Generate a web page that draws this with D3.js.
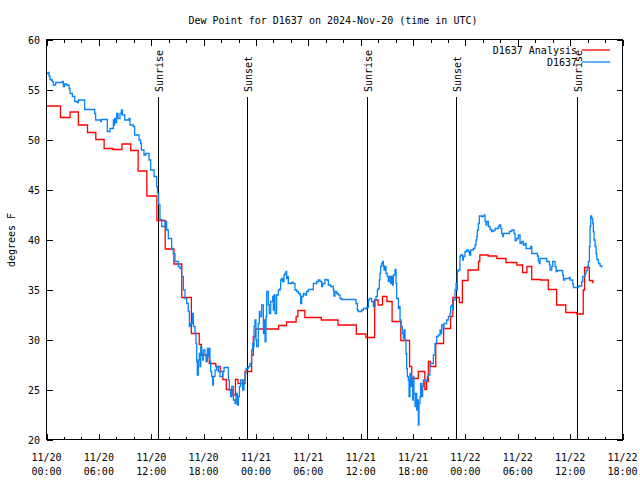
<!DOCTYPE html>
<html><head><meta charset="utf-8">
<script src="https://cdn.jsdelivr.net/npm/d3@7"></script>
<style>
body{margin:0;background:#fff}
text{font-family:"DejaVu Sans Mono","Liberation Mono",monospace;font-size:10px;fill:#000}
</style>
</head><body>
<svg id="c" width="640" height="480"></svg>
<script>
const titleText = "Dew Point for D1637 on 2024-Nov-20 (time in UTC)";
const yLabel = "degrees F";
const seriesNames = ["D1637 Analysis", "D1637"];
const seriesColors = ["#ff0000", "#0a84f5"];

// Analysis (red) – step values, hours since 11/20 00:00 UTC
const anaHours = [0,1.6,2.7,3.65,4.7,5.65,6.6,7.6,8.65,9.65,10.5,11.5,12.65,13.6,14.6,15.5,16.6,17.5,17.75,18.65,19.4,19.9,20.2,20.6,21.35,21.65,21.95,22.75,23.5,23.7,23.95,26.6,27.5,28.6,28.8,29.6,31.5,33.4,35.5,36.6,37.6,38.0,38.5,39.0,39.6,40.6,41.6,41.85,42.6,43.35,43.55,43.75,44.0,44.6,45.5,46.3,46.55,47.3,47.65,48.3,49.5,49.65,50.6,51.6,52.65,53.9,54.55,55.05,55.6,56.6,57.5,58.45,59.5,60.75,61.5,61.65,62.2,62.6,62.7];
const anaDew = [53.35,52.2,52.75,51.45,50.7,50.0,49.1,49.0,49.55,48.9,46.85,44.35,41.9,39.05,37.55,34.2,30.6,29.5,28.45,27.6,27.3,26.8,26.0,25.0,24.45,26.0,25.6,26.8,28.45,30.3,31.05,31.4,31.75,32.3,32.9,32.2,31.95,31.45,30.55,30.2,33.95,33.45,34.3,33.8,31.8,29.9,27.3,26.1,26.8,25.0,25.8,27.8,27.3,29.6,31.1,32.3,34.2,33.7,35.9,36.95,37.8,38.45,38.35,38.1,37.7,37.45,36.7,37.3,36.0,35.95,35.0,33.45,32.7,32.55,34.95,37.2,35.9,35.7,35.7];

// Observations (blue)
const obsHours = [0.02,0.17,0.29,0.40,0.55,0.67,0.78,1.05,1.81,1.93,2.08,2.31,2.58,2.69,2.96,3.23,3.53,3.65,4.22,4.37,5.37,5.52,5.63,6.21,6.28,6.9,6.97,7.28,7.54,7.66,7.73,7.81,7.93,8.04,8.19,8.42,8.58,8.69,8.96,9.45,9.57,9.84,9.95,10.1,10.6,10.79,10.87,11.17,11.36,11.75,11.94,12.32,12.62,12.72,12.85,13.0,13.2,13.58,13.77,13.96,14.34,14.53,14.72,15.1,15.3,15.49,15.68,15.87,16.06,16.25,16.37,16.52,16.75,16.83,17.02,17.13,17.21,17.28,17.4,17.51,17.59,17.67,17.78,17.9,17.97,18.16,18.28,18.43,18.54,18.66,18.73,18.81,18.93,19.04,19.12,19.31,19.5,19.69,19.88,20.19,20.34,20.72,20.84,20.95,21.1,21.22,21.41,21.6,21.71,21.87,21.98,22.1,22.25,22.48,22.63,22.75,22.86,23.13,23.32,23.51,23.62,23.7,23.78,23.89,24.0,24.08,24.27,24.39,24.47,24.66,24.85,24.92,25.04,25.15,25.23,25.42,25.53,25.69,25.92,25.99,26.07,26.18,26.37,26.57,26.76,26.83,26.95,27.06,27.21,27.33,27.44,27.52,27.6,27.71,28.09,28.28,28.47,28.67,28.86,29.05,29.12,29.24,29.43,29.62,29.81,30.0,30.38,30.58,30.96,31.15,31.34,31.53,31.65,31.91,32.1,32.29,32.56,32.87,32.94,33.06,33.25,33.44,33.63,33.82,35.35,35.46,35.62,35.73,36.11,36.31,36.69,36.88,36.99,37.26,37.45,37.64,37.76,37.91,38.02,38.14,38.21,38.29,38.41,38.52,38.6,38.67,38.79,38.9,39.05,39.17,39.28,39.44,39.55,39.67,39.74,39.93,40.05,40.12,40.32,40.43,40.51,40.62,40.77,40.89,40.97,41.08,41.19,41.27,41.35,41.46,41.54,41.65,41.73,41.84,41.96,42.03,42.11,42.23,42.34,42.42,42.49,42.61,42.68,42.8,42.87,42.99,43.1,43.18,43.56,43.64,43.75,43.94,44.14,44.33,44.52,44.71,44.9,45.09,45.17,45.28,45.47,45.55,45.85,46.05,46.24,46.31,46.43,46.54,46.62,46.81,46.92,47.0,47.08,47.19,47.38,47.46,47.69,47.76,47.95,48.15,48.34,48.46,48.61,48.91,49.1,49.22,49.3,49.37,49.49,49.6,49.87,50.06,50.17,50.25,50.37,50.44,50.63,50.82,51.01,51.21,51.4,51.78,51.89,52.05,52.16,52.28,52.35,53.04,53.31,53.57,53.69,53.88,54.07,54.26,54.45,54.64,54.83,54.95,55.48,55.6,56.25,56.36,56.48,56.55,57.32,57.62,57.7,57.89,58.0,58.27,58.39,58.54,59.15,59.23,59.42,59.91,59.99,60.3,60.37,60.95,61.33,61.44,61.71,61.82,61.98,62.09,62.21,62.28,62.36,62.47,62.59,62.66,62.74,62.86,62.97,63.05,63.24,63.43,63.62];
const obsDew = [56.6,56.7,56.35,56.0,55.95,55.8,55.45,55.7,55.8,55.3,55.55,55.45,55.1,54.6,54.3,53.8,53.7,53.95,53.95,53.0,53.0,52.6,51.95,51.8,52.0,52.0,50.8,51.1,51.1,51.95,51.45,52.1,51.7,52.6,52.1,52.6,52.95,52.45,51.95,52.1,51.45,51.45,51.3,50.45,49.95,49.6,48.95,48.45,48.6,47.95,46.95,46.3,45.3,44.6,43.5,42.0,41.3,41.8,40.95,40.1,39.1,38.6,37.8,37.3,37.1,36.3,34.95,34.1,33.6,32.8,31.3,31.6,32.6,31.3,30.6,29.6,27.8,26.45,27.95,28.6,27.3,29.3,28.6,27.95,28.95,28.45,27.8,29.1,28.3,29.1,27.8,26.8,26.3,25.45,26.3,26.95,27.3,26.8,26.3,26.8,27.2,27.2,25.95,24.95,24.3,25.3,23.95,23.6,24.6,23.45,24.3,25.3,25.95,24.95,25.95,26.6,27.1,27.3,27.6,28.95,29.6,29.3,31.3,31.95,29.95,29.3,31.6,32.8,32.3,33.45,30.6,31.95,29.8,32.3,34.8,33.45,32.6,33.8,34.3,32.95,34.45,32.6,34.45,34.95,35.1,35.95,36.1,35.8,36.45,36.6,36.8,36.1,36.3,35.6,35.7,35.6,34.95,34.8,34.6,34.45,33.6,34.3,34.6,34.45,34.8,35.0,35.0,35.6,35.8,35.95,35.8,35.3,35.6,36.0,35.95,35.45,35.3,34.95,34.35,34.8,34.6,34.45,34.1,34.0,34.0,33.6,32.95,32.8,32.95,33.1,33.2,33.95,34.1,33.8,33.3,34.0,34.3,34.95,35.1,35.95,36.6,37.3,37.6,37.8,37.35,36.95,37.3,36.6,36.3,35.8,36.3,35.6,36.3,35.45,36.45,37.0,35.6,34.1,33.1,33.3,31.95,31.3,30.6,30.1,30.95,29.95,28.6,27.1,26.3,25.95,24.3,26.6,25.3,25.95,23.95,26.3,24.6,23.3,24.6,22.95,23.95,21.45,23.6,24.3,25.6,24.3,25.3,25.95,25.8,26.3,26.45,27.6,27.6,28.45,29.6,30.3,30.45,30.95,30.6,31.45,31.1,31.6,31.95,32.3,32.6,33.3,33.45,32.95,33.95,34.95,35.6,34.95,36.8,36.95,38.3,38.45,37.95,38.3,38.8,38.95,38.8,38.45,38.95,39.1,39.45,39.95,40.3,40.95,41.6,42.35,42.3,42.35,42.45,41.8,41.45,41.8,41.3,41.0,40.8,40.9,41.1,41.3,41.45,41.1,40.6,40.3,40.6,40.8,40.95,40.6,39.9,40.1,40.45,39.6,39.8,39.45,39.6,39.1,39.3,38.6,38.35,37.8,37.6,38.1,37.8,37.45,36.95,37.3,37.8,37.3,36.8,36.9,36.45,35.95,36.1,36.2,35.95,35.55,35.2,35.35,35.8,36.3,36.6,36.9,37.3,37.8,39.3,41.3,42.35,42.1,41.6,40.8,39.95,39.3,38.6,38.0,37.6,37.35,37.2];

const sunLabels = ["Sunrise","Sunset","Sunrise","Sunset","Sunrise"];
const sunHours = [12.81,23.01,36.76,46.92,60.82];
const xMajorHours = [0,6,12,18,24,30,36,42,48,54,60,66];
const xMinorHours = [2,4,8,10,14,16,20,22,26,28,32,34,38,40,44,46,50,52,56,58,62,64];
const yTicks = [20,25,30,35,40,45,50,55,60];

const svg = d3.select("#c");
const t0 = Date.UTC(2024,10,20,0,0);
const toDate = h => new Date(t0 + h*3600e3);
const x = d3.scaleUtc().domain([toDate(0), toDate(66)]).range([46.5, 622.5]);
const y = d3.scaleLinear().domain([20,60]).range([439.5,39.5]);
const L = 46.5, R = 622.5, T = 39.5, B = 439.5;

// ticks (inward, mirrored)
function noDomain(g){ g.select(".domain").remove(); g.selectAll("text").remove(); g.selectAll("line").attr("stroke","#000").attr("shape-rendering","crispEdges"); }
svg.append("g").attr("transform",`translate(0,${B})`)
  .call(d3.axisBottom(x).tickValues(xMajorHours.map(toDate)).tickSize(-6)).call(noDomain);
svg.append("g").attr("transform",`translate(0,${B})`)
  .call(d3.axisBottom(x).tickValues(xMinorHours.map(toDate)).tickSize(-3)).call(noDomain);
svg.append("g").attr("transform",`translate(0,${T})`)
  .call(d3.axisTop(x).tickValues(xMajorHours.map(toDate)).tickSize(-6)).call(noDomain);
svg.append("g").attr("transform",`translate(0,${T})`)
  .call(d3.axisTop(x).tickValues(xMinorHours.map(toDate)).tickSize(-3)).call(noDomain);
svg.append("g").attr("transform",`translate(${L},0)`)
  .call(d3.axisLeft(y).tickValues(yTicks).tickSize(-6)).call(noDomain);
svg.append("g").attr("transform",`translate(${R},0)`)
  .call(d3.axisRight(y).tickValues(yTicks).tickSize(-6)).call(noDomain);

// tick labels
const fmtD = d3.utcFormat("%m/%d"), fmtT = d3.utcFormat("%H:%M");
xMajorHours.forEach(h => {
  const d = toDate(h);
  const t = svg.append("text").attr("text-anchor","middle");
  t.append("tspan").attr("x", x(d)).attr("y", 461).text(fmtD(d));
  t.append("tspan").attr("x", x(d)).attr("y", 475).text(fmtT(d));
});
yTicks.forEach(v => {
  svg.append("text").attr("x", 40).attr("y", y(v)+4).attr("text-anchor","end").text(v);
});

// sunrise / sunset markers
sunHours.forEach((h,i) => {
  const xx = Math.round(x(toDate(h))) + 0.5;
  svg.append("line").attr("x1",xx).attr("x2",xx).attr("y1",97).attr("y2",B)
    .attr("stroke","#000").attr("stroke-width",1).attr("shape-rendering","crispEdges");
  svg.append("text").attr("transform",`translate(${xx+4},92) rotate(-90)`).text(sunLabels[i]);
});

// series
const line = d3.line().curve(d3.curveStepAfter).x(d => x(toDate(d[0]))).y(d => y(d[1]));
const ana = anaHours.map((h,i) => [h, anaDew[i]]);
const obs = obsHours.map((h,i) => [h, obsDew[i]]);
svg.append("path").datum(ana).attr("d", line).attr("fill","none")
  .attr("stroke", seriesColors[0]).attr("stroke-width",1.3);
svg.append("path").datum(obs).attr("d", line).attr("fill","none")
  .attr("stroke", seriesColors[1]).attr("stroke-width",1.3);

// border
svg.append("rect").attr("x",L).attr("y",T).attr("width",R-L).attr("height",B-T)
  .attr("fill","none").attr("stroke","#000").attr("stroke-width",1).attr("shape-rendering","crispEdges");

// legend
[0,1].forEach(i => {
  const ly = 50 + i*12;
  svg.append("text").attr("x",577).attr("y",ly+4).attr("text-anchor","end").text(seriesNames[i]);
  svg.append("line").attr("x1",582).attr("x2",610).attr("y1",ly).attr("y2",ly)
    .attr("stroke",seriesColors[i]).attr("stroke-width",1.3);
});

// title and axis label
svg.append("text").attr("x",333).attr("y",24).attr("text-anchor","middle").text(titleText);
svg.append("text").attr("transform","translate(15,240) rotate(-90)").attr("text-anchor","middle").text(yLabel);
</script>
</body></html>
